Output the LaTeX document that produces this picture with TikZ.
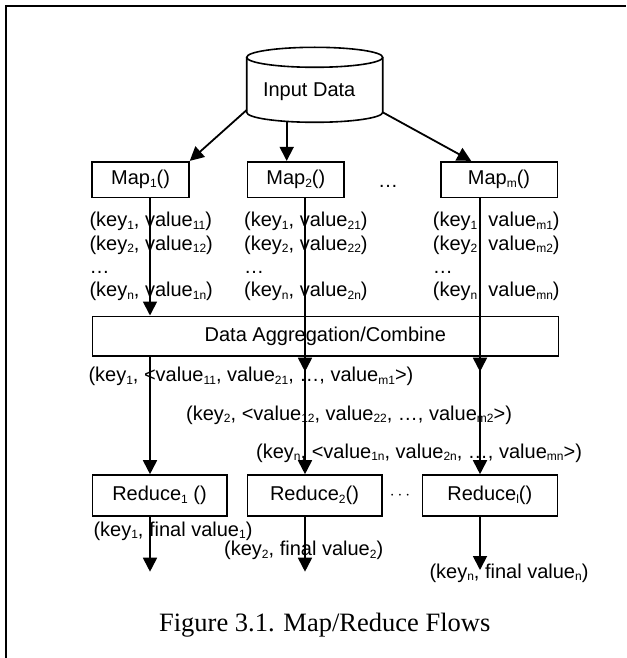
\documentclass[tikz,border=0pt]{standalone}
\usepackage{fontspec}
\setmainfont{Liberation Sans}
\newfontfamily\capfont{Liberation Serif}
\usetikzlibrary{arrows.meta,calc}
\newcommand\fs{\fontsize{20}{24}\selectfont}
\newcommand\sub[1]{\raisebox{-2.5pt}{\fontsize{12}{12}\selectfont #1}}
\tikzset{
  box/.style={draw, line width=1.6pt, inner sep=0pt, font=\fs},
  lbl/.style={anchor=west, inner sep=0pt, text height=14pt, text depth=4pt, font=\fs},
  arr/.style={line width=1.8pt, -{Triangle[length=14pt,width=14pt]}},
  frameline/.style={line width=1.8pt},
}
\begin{document}
\begin{tikzpicture}[x=1pt,y=-1pt]
\path[fill=white] (0,0) rectangle (626,658);
\useasboundingbox (0,0) rectangle (626,658);
% frame
\draw[frameline] (6,658) -- (6,6) -- (626,6);

% cylinder
\draw[line width=1.6pt] (314.7,57.3) ellipse [x radius=68, y radius=10];
\draw[line width=1.6pt] (246.7,57.3) -- (246.7,112.3)
  arc[start angle=180, end angle=0, x radius=68, y radius=10] -- (382.7,57.3);
\node[lbl, anchor=center] (inp) at (309.2,91.7) {Input Data};
\coordinate (cylL) at (246.7,110);
\coordinate (cylB) at (286.7,122.5);
\coordinate (cylR) at (382.7,112.3);

% map boxes
\node[box, minimum width=96.7pt, minimum height=35.6pt] (map1) at (140.6,179.5) {Map\sub{1}()};
\node[box, minimum width=96.3pt, minimum height=35.6pt] (map2) at (295.8,179.5) {Map\sub{2}()};
\node[box, minimum width=116.6pt, minimum height=35.6pt] (mapm) at (499,179.5) {Map\sub{m}()};
\node[lbl, anchor=center] (mdots) at (388,182) {…};

% aggregation
\node[box, minimum width=466pt, minimum height=39.4pt] (agg) at (325.3,336) {Data Aggregation/Combine};

% reduce boxes
\node[box, minimum width=134.4pt, minimum height=41pt] (red1) at (159.5,495.5) {Reduce\sub{1} ()};
\node[box, minimum width=134.4pt, minimum height=41pt] (red2) at (314.5,495.5) {Reduce\sub{2}()};
\node[box, minimum width=135pt, minimum height=41pt] (redl) at (489.8,495.5) {Reduce\sub{l}()};
\node[inner sep=0pt, font=\fontsize{16}{16}\selectfont] (rdots) at (400,496) {$\cdots$};

% map output labels
\node[lbl] (a1) at (89.3,221.7) {(key\sub{1}, value\sub{11})};
\node[lbl] (a2) at (89.3,245) {(key\sub{2}, value\sub{12})};
\node[lbl] (a3) at (89.3,268.3) {…};
\node[lbl] (a4) at (89.3,291.7) {(key\sub{n}, value\sub{1n})};
\node[lbl] (b1) at (244,221.7) {(key\sub{1}, value\sub{21})};
\node[lbl] (b2) at (244,245) {(key\sub{2}, value\sub{22})};
\node[lbl] (b3) at (244,268.3) {…};
\node[lbl] (b4) at (244,291.7) {(key\sub{n}, value\sub{2n})};
\node[lbl] (c1l) at (432.7,221.7) {(key\sub{1}, value\sub{m1})};
\node[lbl] (c2l) at (432.7,245) {(key\sub{2}, value\sub{m2})};
\node[lbl] (c3l) at (432.7,268.3) {…};
\node[lbl] (c4l) at (432.7,291.7) {(key\sub{n}, value\sub{mn})};

% aggregated labels
\node[lbl] (g1) at (88.3,376.7) {(key\sub{1}, <value\sub{11}, value\sub{21}, …, value\sub{m1}>)};
\node[lbl] (g2) at (186,415) {(key\sub{2}, <value\sub{12}, value\sub{22}, …, value\sub{m2}>)};
\node[lbl] (g3) at (256,453.3) {(key\sub{n}, <value\sub{1n}, value\sub{2n}, …, value\sub{mn}>)};

% final labels
\node[lbl] (f1) at (93.3,531) {(key\sub{1}, final value\sub{1})};
\node[lbl] (f2) at (224,550.7) {(key\sub{2}, final value\sub{2})};
\node[lbl] (f3) at (429.3,573.3) {(key\sub{n}, final value\sub{n})};

% caption
\node[inner sep=0pt, font=\capfont\fontsize{26.5}{30}\selectfont] (cap) at (324.7,624.7) {Figure 3.1. Map/Reduce Flows};

% column coordinates
\coordinate (k1) at (150,0);
\coordinate (k2) at (305,0);
\coordinate (k3) at (480,0);
\coordinate (e2) at (305,371.7);
\coordinate (e3) at (480,371.7);
\coordinate (o1) at (150,571.7);
\coordinate (o2) at (305,571.7);
\coordinate (o3) at (480,570);

% connectors from input
\draw[arr] (cylL) -- (map1.north east);
\draw[arr] (cylB) -- (cylB |- map2.north);
\draw[arr] (cylR) -- ($(mapm.north west)+(31.3,0)$);

% map to aggregation
\draw[arr] (k1 |- map1.south) -- (k1 |- agg.north);
\draw[arr] (k2 |- map2.south) -- (e2);
\draw[arr] (k3 |- mapm.south) -- (e3);

% aggregation to reduce
\draw[arr] (k1 |- agg.south) -- (k1 |- red1.north);
\draw[arr] (k2 |- agg.south) -- (k2 |- red2.north);
\draw[arr] (k3 |- agg.south) -- (k3 |- redl.north);

% reduce outputs
\draw[arr] (k1 |- red1.south) -- (o1);
\draw[arr] (k2 |- red2.south) -- (o2);
\draw[arr] (k3 |- redl.south) -- (o3);
\end{tikzpicture}
\end{document}
